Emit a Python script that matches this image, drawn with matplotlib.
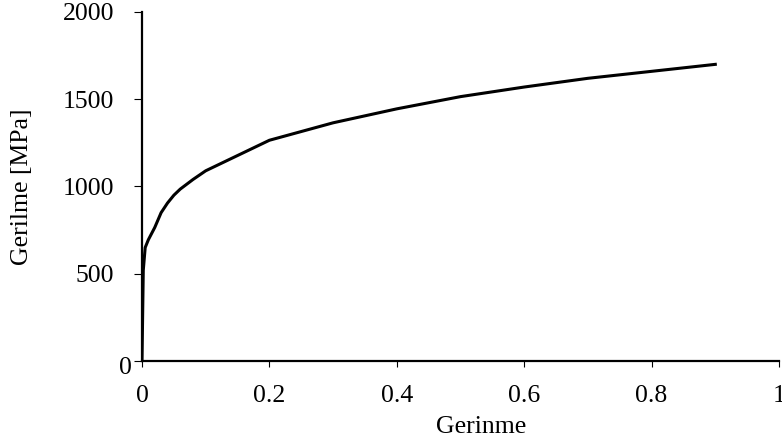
import matplotlib
matplotlib.use("Agg")
import matplotlib.pyplot as plt
from matplotlib.transforms import ScaledTranslation

# stress-strain curve values
strain = [0, 0.002, 0.005, 0.01, 0.02, 0.03, 0.04, 0.05, 0.06, 0.08, 0.1,
          0.2, 0.3, 0.4, 0.5, 0.6, 0.7, 0.8, 0.9]
stress = [0, 520, 650, 695, 765, 850, 905, 950, 985, 1040, 1090,
          1265, 1365, 1445, 1515, 1570, 1620, 1660, 1700]

x_ticks = [0, 0.2, 0.4, 0.6, 0.8, 1]
x_labels = ["0", "0.2", "0.4", "0.6", "0.8", "1"]
y_ticks = [0, 500, 1000, 1500, 2000]
y_labels = ["0", "500", "1000", "1500", "2000"]

plt.rcParams['font.family'] = ['Liberation Serif', 'DejaVu Serif']
fs = 18.5

fig = plt.figure(figsize=(7.82, 4.43), dpi=100)
ax = fig.add_axes([142 / 782, 82 / 443, 637 / 782, 349 / 443])

ax.plot(strain, stress, color='black', lw=2.2, solid_joinstyle='round')

ax.set_xlim(0, 1)
ax.set_ylim(0, 2000)
ax.set_xticks(x_ticks)
ax.set_xticklabels(x_labels)
ax.set_yticks(y_ticks)
ax.set_yticklabels(y_labels)

for s in ['top', 'right']:
    ax.spines[s].set_visible(False)
for s in ['left', 'bottom']:
    ax.spines[s].set_linewidth(1.6)

ax.tick_params(axis='x', direction='out', length=4, width=0.8, pad=13, labelsize=fs)
ax.tick_params(axis='y', direction='out', length=6, width=0.8, pad=14, labelsize=fs)

# the "0" on the y axis sits closer to the axis, like in the original
lab0 = ax.get_yticklabels()[0]
lab0.set_transform(lab0.get_transform() + ScaledTranslation(18 / 100, -5 / 100, fig.dpi_scale_trans))

ax.set_xlabel('Gerinme', fontsize=fs, va='center')
ax.xaxis.set_label_coords(0.532, -0.19)
ax.set_ylabel('Gerilme [MPa]', fontsize=fs, va='center')
ax.yaxis.set_label_coords(-0.188, 0.5)

fig.savefig('out.png', dpi=100)
